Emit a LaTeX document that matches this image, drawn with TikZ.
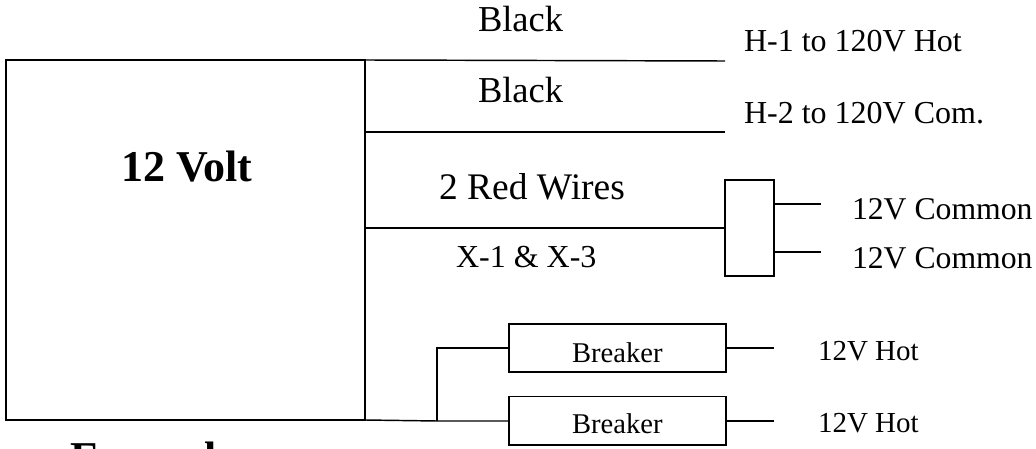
\documentclass[tikz,border=0pt]{standalone}
\usepackage{fontspec}
\setmainfont{Liberation Serif}
\tikzset{
  wire/.style={draw=black,line width=1.45pt},
  box/.style={draw=black,line width=1.45pt,fill=none,inner sep=0pt,outer sep=0pt,rectangle},
  lab/.style={inner sep=0pt,outer sep=0pt,anchor=base west,text=black},
}
\newcommand{\fs}[1]{\fontsize{#1}{#1}\selectfont}
\begin{document}
\begin{tikzpicture}[x=1pt,y=-1pt]
\useasboundingbox (0,0) rectangle (1036,449);
\clip (0,0) rectangle (1036,449);
\node[box,anchor=north west,minimum width=359pt,minimum height=360pt] (main) at (6,60) {};
\node[box,anchor=north west,minimum width=49pt,minimum height=96pt] (rel) at (725,180) {};
\node[box,anchor=north west,minimum width=217pt,minimum height=48pt] (b1) at (509,324) {};
\node[box,anchor=north west,minimum width=217pt,minimum height=48.5pt] (b2) at (509,396.5) {};
\coordinate (j1) at (365,60); \coordinate (e1) at (725,61);
\coordinate (j2) at (365,132); \coordinate (e2) at (725,132);
\coordinate (j3) at (365,228);
\coordinate (j4) at (365,420); \coordinate (j5) at (437,421); \coordinate (j6) at (437,348);
\draw[wire] (j1) -- (j4);
\draw[wire] (j1) -- (e1);
\draw[wire] (j2) -- (e2);
\draw[wire] (j3) -- (j3 -| rel.west);
\draw[wire] (j4) -- (j5) -- (j5 -| b2.west);
\draw[wire] (j5) -- (j6) -- (j6 -| b1.west);
\coordinate (c1) at (821,204); \coordinate (c2) at (821,252);
\coordinate (h1) at (774,348); \coordinate (h2) at (774,421);
\draw[wire] (c1 -| rel.east) -- (c1);
\draw[wire] (c2 -| rel.east) -- (c2);
\draw[wire] (h1 -| b1.east) -- (h1);
\draw[wire] (h2 -| b2.east) -- (h2);
\node[lab,font=\fs{36.5}] (t1) at (478,32) {Black};
\node[lab,font=\fs{36.5}] (t2) at (478,103) {Black};
\node[lab,font=\fs{32}] (t3) at (744,52) {H-1 to 120V Hot};
\node[lab,font=\fs{32}] (t4) at (744,124) {H-2 to 120V Com.};
\node[lab,font=\fs{44}\bfseries] (t5) at (121,182) {12 Volt};
\node[lab,font=\fs{37.5}] (t6) at (439,200) {2 Red Wires};
\node[lab,font=\fs{32}] (t7) at (456,267) {X-1 \& X-3};
\node[lab,font=\fs{31.7}] (t8) at (852,220) {12V Common};
\node[lab,font=\fs{31.7}] (t9) at (852,268) {12V Common};
\node[lab,font=\fs{28.6}] (t10) at (572,362) {Breaker};
\node[lab,font=\fs{28.6}] (t11) at (572,433) {Breaker};
\node[lab,font=\fs{29}] (t12) at (818,360) {12V Hot};
\node[lab,font=\fs{29}] (t13) at (818,432) {12V Hot};
\node[lab,font=\fs{44}\bfseries] (t14) at (70,472) {Example};
\end{tikzpicture}
\end{document}
